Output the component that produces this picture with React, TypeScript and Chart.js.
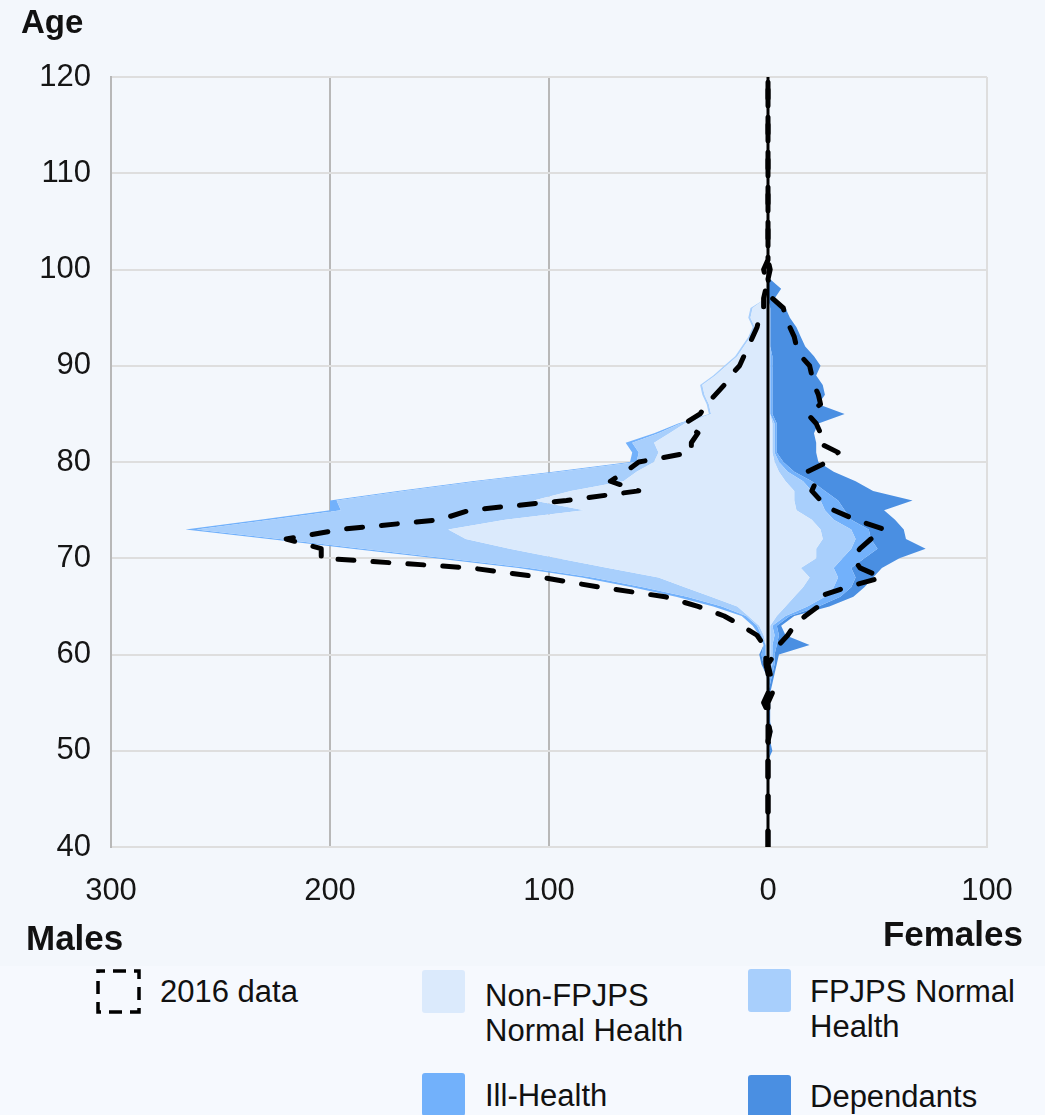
import React, { useEffect, useRef } from "react";
import { Chart, registerables } from "chart.js";

Chart.register(...registerables);

// ---------- data ----------
const AGES = [
  49, 50, 51, 52, 53, 54, 55, 56, 57, 58, 59, 60, 61, 62, 63, 64, 65, 66, 67, 68,
  69, 70, 71, 72, 73, 74, 75, 76, 77, 78, 79, 80, 81, 82, 83, 84, 85, 86, 87, 88,
  89, 90, 91, 92, 93, 94, 95, 96, 97, 98, 99, 100, 101,
];

// Males (magnitudes, drawn to the left)
const MALE_NON_FPJPS = [
  0, 0, 0, 0, 0, 0, 0, 0, 0, 0, 1, 1, 1, 2, 4, 9, 14, 26, 38, 50,
  73, 96, 118, 138, 146, 120, 84, 107, 90, 66, 60, 52, 50, 52, 45, 38, 26, 27, 29, 30,
  24, 19, 14, 11, 8, 6, 8, 7, 1, 0, 0, 0, 0,
];
const MALE_FPJPS = [
  0, 0, 0, 0, 0, 0, 0, 0, 0, 0, 0, 0, 0, 1, 1, 1, 7, 11, 19, 30,
  36, 51, 67, 85, 115, 107, 111, 90, 76, 66, 35, 8, 9, 10, 5, 2, 1, 1, 1, 1,
  1, 1, 1, 1, 1, 1, 1, 1, 0, 0, 0, 0, 0,
];
const MALE_ILL = [
  0, 0, 0, 0, 0, 0, 0, 0, 0, 1, 1, 2, 1, 1, 2, 2, 4, 5, 5, 5,
  5, 5, 5, 5, 5, 5, 5, 3, 3, 3, 3, 3, 3, 3, 2, 1, 0, 0, 0, 0,
  0, 0, 0, 0, 0, 0, 0, 0, 0, 0, 0, 0, 0,
];
const MALE_DEP = [
  0, 0, 0, 0, 0, 0, 0, 0, 0, 0, 1, 1, 0, 0, 0, 0, 0, 0, 0, 0,
  0, 0, 0, 0, 0, 0, 0, 0, 0, 0, 0, 0, 0, 0, 0, 0, 0, 0, 0, 0,
  0, 0, 0, 0, 0, 0, 0, 0, 0, 0, 0, 0, 0,
];

// Females (drawn to the right)
const FEMALE_NON_FPJPS = [
  0, 0, 0, 0, 0, 0, 0, 0, 0, 0, 1, 1, 1, 1, 1, 4, 8, 12, 16, 19,
  15, 22, 22, 25, 24, 20, 13, 12, 12, 8, 5, 3, 2, 2, 2, 2, 1, 1, 1, 1,
  1, 1, 1, 1, 1, 1, 1, 1, 0, 0, 0, 0, 0,
];
const FEMALE_FPJPS = [
  0, 0, 0, 0, 0, 0, 0, 0, 0, 1, 1, 1, 1, 2, 1, 4, 10, 14, 14, 13,
  15, 12, 16, 15, 14, 10, 13, 12, 8, 8, 4, 2, 1, 1, 1, 1, 0, 0, 0, 0,
  0, 0, 0, 0, 0, 0, 0, 0, 0, 0, 0, 0, 0,
];
const FEMALE_ILL = [
  0, 1, 0, 1, 0, 0, 0, 0, 1, 1, 1, 1, 2, 2, 2, 2, 5, 7, 8, 8,
  8, 10, 12, 7, 8, 8, 9, 8, 6, 4, 3, 2, 1, 1, 1, 1, 1, 1, 1, 1,
  1, 1, 1, 0, 0, 0, 0, 0, 0, 0, 0, 0, 0,
];
const FEMALE_DEP = [
  0, 1, 1, 1, 1, 1, 1, 1, 1, 1, 1, 2, 15, 3, 2, 2, 5, 6, 6, 8,
  14, 16, 22, 16, 16, 20, 18, 34, 22, 20, 18, 16, 18, 18, 17, 19, 33, 21, 24, 23,
  20, 22, 19, 16, 14, 12, 9, 7, 3, 6, 1, 0, 0,
];

// 2016 data (dashed outline), ages 40, 49..101, 120
const AGES_2016 = [40, ...AGES, 120];
const MALE_2016 = [
  0,
  0, 0, 0, 0, 0, 0, 2, 0, 0, 0, 1, 1, 2, 5, 12, 20, 32, 47, 77, 103,
  136, 204, 204, 220, 195, 150, 136, 92, 59, 72, 65, 59, 35, 35, 32, 38, 31, 28, 24, 20,
  17, 13, 11, 9, 7, 5, 4, 2, 2, 1, 1, 2, 0,
  0,
];
const FEMALE_2016 = [
  0,
  0, 1, 0, 1, 0, 0, 0, 2, 2, 1, 0, 3, 5, 9, 12, 17, 23, 23, 36, 52,
  42, 39, 42, 47, 53, 40, 30, 24, 20, 22, 18, 27, 32, 23, 24, 22, 18, 24, 23, 21,
  20, 19, 15, 13, 12, 10, 8, 7, 2, 1, 0, 1, 0,
  0,
];

const SERIES_NAMES = ["Non-FPJPS Normal Health", "FPJPS Normal Health", "Ill-Health", "Dependants"];
const SERIES_COLORS = ["#dbeafc", "#a8cffc", "#72b1fb", "#4a8fe2"];

const AGE_MIN = 40;
const AGE_MAX = 120;
const X_MIN = -300;
const X_MAX = 100;

const FONT = '"Liberation Sans", Arial, Helvetica, sans-serif';

function stackLayers(layers: number[][], sign: number) {
  const run = AGES.map(() => 0);
  return layers.map((layer) => {
    layer.forEach((v, i) => {
      run[i] += v;
    });
    return AGES.map((age, i) => ({ x: sign * run[i], y: age }));
  });
}

export default function App() {
  const canvasRef = useRef<HTMLCanvasElement | null>(null);

  useEffect(() => {
    const canvas = canvasRef.current;
    if (!canvas) return;

    const maleStack = stackLayers([MALE_NON_FPJPS, MALE_FPJPS, MALE_ILL, MALE_DEP], -1);
    const femaleStack = stackLayers([FEMALE_NON_FPJPS, FEMALE_FPJPS, FEMALE_ILL, FEMALE_DEP], 1);

    const dashed = (vals: number[], sign: number, label: string) => ({
      label,
      data: AGES_2016.map((age, i) => ({ x: sign * vals[i], y: age })),
      borderColor: "#000",
      borderWidth: 5,
      borderDash: [16, 19],
      borderCapStyle: "round" as const,
      borderJoinStyle: "round" as const,
      fill: false,
      pointRadius: 0,
    });

    const layerDatasets = (stack: { x: number; y: number }[][], side: string) =>
      stack.map((data, k) => ({
        label: `${side} ${SERIES_NAMES[k]}`,
        data,
        backgroundColor: SERIES_COLORS[k],
        borderColor: "rgba(0,0,0,0)",
        borderWidth: 0,
        pointRadius: 0,
        fill: k === 0 ? "origin" : "-1",
      }));

    const datasets: any[] = [
      dashed(MALE_2016, -1, "Males 2016 data"),
      dashed(FEMALE_2016, 1, "Females 2016 data"),
      {
        label: "zero",
        data: [
          { x: 0, y: AGE_MIN },
          { x: 0, y: AGE_MAX },
        ],
        borderColor: "#000",
        borderWidth: 3,
        pointRadius: 0,
        fill: false,
      },
      ...layerDatasets(maleStack, "Males"),
      ...layerDatasets(femaleStack, "Females"),
    ];

    const chart = new Chart(canvas, {
      type: "line",
      data: { datasets },
      options: {
        animation: false,
        responsive: false,
        devicePixelRatio: 1,
        indexAxis: "y",
        layout: { padding: { top: 77, right: 58, left: 0, bottom: 0 } },
        plugins: {
          legend: { display: false },
          tooltip: { enabled: false },
        },
        elements: { point: { radius: 0 }, line: { tension: 0 } },
        scales: {
          x: {
            type: "linear",
            min: X_MIN,
            max: X_MAX,
            ticks: {
              stepSize: 100,
              callback: (v: any) => String(Math.abs(Number(v))),
              font: { family: FONT, size: 31 },
              color: "#151515",
              padding: 26,
            },
            grid: {
              drawTicks: false,
              lineWidth: 2,
              color: (ctx: any) => {
                const v = ctx.tick ? ctx.tick.value : null;
                if (v === 0) return "rgba(0,0,0,0)";
                if (v === -200 || v === -100) return "#b8b8b8";
                return "#dedede";
              },
            },
            border: { display: true, color: "#dedede", width: 2 },
            afterFit: (scale: any) => {
              scale.height = 118;
            },
          },
          y: {
            type: "linear",
            min: AGE_MIN,
            max: AGE_MAX,
            ticks: {
              stepSize: 10,
              font: { family: FONT, size: 31 },
              color: "#151515",
              padding: 20,
            },
            grid: {
              drawTicks: false,
              lineWidth: 2,
              color: "#dedede",
            },
            border: { display: true, color: "#b8b8b8", width: 2 },
            afterFit: (scale: any) => {
              scale.width = 111;
            },
          },
        },
      },
    });

    return () => {
      chart.destroy();
    };
  }, []);

  const text = (content: React.ReactNode, left: number, top: number, extra: React.CSSProperties = {}) => (
    <div
      style={{
        position: "absolute",
        left,
        top,
        fontSize: 31,
        lineHeight: "35px",
        color: "#111",
        whiteSpace: "nowrap",
        ...extra,
      }}
    >
      {content}
    </div>
  );

  const swatch = (left: number, top: number, color: string) => (
    <div
      style={{
        position: "absolute",
        left,
        top,
        width: 43,
        height: 43,
        borderRadius: 3,
        background: color,
      }}
    />
  );

  const bold: React.CSSProperties = {
    position: "absolute",
    fontSize: 35,
    lineHeight: "35px",
    fontWeight: 700,
    color: "#111",
    whiteSpace: "nowrap",
  };

  return (
    <div
      style={{
        position: "fixed",
        left: 0,
        top: 0,
        width: 1045,
        height: 1115,
        background: "#f6f9fe",
        fontFamily: FONT,
        overflow: "hidden",
      }}
    >
      <div style={{ position: "absolute", left: 0, top: 0, width: 1045, height: 966, background: "#f3f7fc" }} />
      <canvas
        ref={canvasRef}
        width={1045}
        height={965}
        style={{ position: "absolute", left: 0, top: 0, width: 1045, height: 965 }}
      />
      <div style={{ ...bold, left: 21, top: 5, fontSize: 33, lineHeight: "33px" }}>Age</div>
      <div style={{ ...bold, left: 26, top: 920 }}>Males</div>
      <div style={{ ...bold, right: 22, top: 916 }}>Females</div>

      {/* legend */}
      <svg style={{ position: "absolute", left: 95, top: 968 }} width={48} height={48}>
        <rect x={3} y={3} width={41} height={41} fill="none" stroke="#000" strokeWidth={3.5} strokeDasharray="13 8" strokeDashoffset={6} />
      </svg>
      {text("2016 data", 160, 974)}

      {swatch(422, 970, SERIES_COLORS[0])}
      {text(<>Non-FPJPS<br />Normal Health</>, 485, 978)}

      {swatch(748, 969, SERIES_COLORS[1])}
      {text(<>FPJPS Normal<br />Health</>, 810, 974)}

      {swatch(422, 1073, SERIES_COLORS[2])}
      {text(SERIES_NAMES[2], 485, 1078)}

      {swatch(748, 1075, SERIES_COLORS[3])}
      {text(SERIES_NAMES[3], 810, 1079)}
    </div>
  );
}
